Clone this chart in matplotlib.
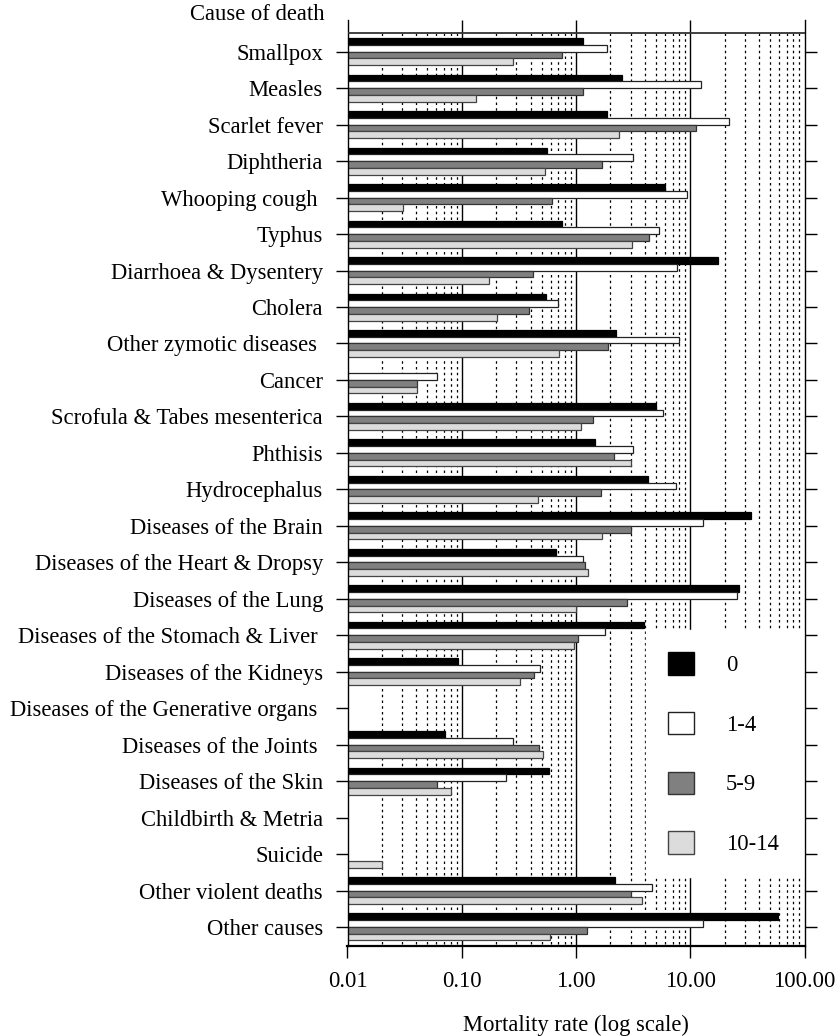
import matplotlib
matplotlib.use('Agg')
import matplotlib.pyplot as plt
from matplotlib.ticker import FixedLocator, NullLocator
import numpy as np

nan = np.nan

causes = ['Smallpox', 'Measles', 'Scarlet fever', 'Diphtheria', 'Whooping cough ',
          'Typhus', 'Diarrhoea & Dysentery', 'Cholera', 'Other zymotic diseases ',
          'Cancer', 'Scrofula & Tabes mesenterica', 'Phthisis', 'Hydrocephalus',
          'Diseases of the Brain', 'Diseases of the Heart & Dropsy',
          'Diseases of the Lung', 'Diseases of the Stomach & Liver ',
          'Diseases of the Kidneys', 'Diseases of the Generative organs ',
          'Diseases of the Joints ', 'Diseases of the Skin', 'Childbirth & Metria',
          'Suicide', 'Other violent deaths', 'Other causes']

ages = ['0', '1-4', '5-9', '10-14']

# mortality rates per age group, nan where nothing was recorded
age0 = [1.15, 2.53, 1.87, 0.56, 5.98, 0.76, 17.4, 0.55, 2.23, nan, 5.02, 1.46,
        4.27, 33.8, 0.67, 26.6, 3.92, 0.092, nan, 0.071, 0.58, nan, nan, 2.20, 58.2]
age1_4 = [1.87, 12.4, 21.9, 3.16, 9.44, 5.33, 7.71, 0.70, 7.92, 0.0605, 5.78, 3.16,
          7.51, 13.0, 1.16, 25.8, 1.81, 0.485, nan, 0.283, 0.243, nan, nan, 4.67, 13.0]
age5_9 = [0.76, 1.16, 11.2, 1.70, 0.614, 4.39, 0.424, 0.384, 1.90, 0.0405, 1.40, 2.17,
          1.64, 3.01, 1.19, 2.78, 1.04, 0.433, nan, 0.476, 0.061, nan, nan, 3.03, 1.24]
age10_14 = [0.283, 0.132, 2.37, 0.537, 0.0303, 3.12, 0.173, 0.203, 0.716, 0.0405, 1.10,
            3.03, 0.466, 1.68, 1.27, 1.01, 0.969, 0.324, nan, 0.516, 0.0813, nan,
            0.0202, 3.79, 0.598]

xticks = [0.01, 0.1, 1, 10, 100]
xticklabels = ['0.01', '0.10', '1.00', '10.00', '100.00']

plt.rcParams['font.family'] = 'Liberation Serif'
plt.rcParams['font.size'] = 16.3

W, H = 838, 1036
fig = plt.figure(figsize=(W / 100, H / 100), dpi=100)
ax = fig.add_axes([347.5 / W, (H - 945.7) / H, 457 / W, (945.7 - 20) / H])

xmin, xmax = xticks[0], xticks[-1]
ytop_header, ytop_plot, ybot = -0.87, -0.513, len(causes) - 1 + 0.513

# grid: solid decade lines run through the header row, dotted minor lines do not
decades = xticks[1:-1]
minors = [k * 10.0 ** e for e in range(-2, 2) for k in range(2, 10)]
ax.vlines(decades, ytop_header, ybot, colors='black', lw=1.0, zorder=1)
ax.vlines(minors, ytop_plot, ybot, colors='black', lw=0.9,
          linestyles=(0, (2, 2.6)), zorder=1)
ax.axhline(ytop_plot, color='#333333', lw=1.3, zorder=3)

colors = ['black', 'white', '#808080', '#dcdcdc']
edges = ['black', '#222222', '#333333', '#444444']
series = [age0, age1_4, age5_9, age10_14]
h = 0.185
offsets = (np.arange(4) - 1.5) * h
ypos = np.arange(len(causes))
for vals, lab, fc, ec, off in zip(series, ages, colors, edges, offsets):
    v = np.array(vals)
    ok = ~np.isnan(v)
    ax.barh(ypos[ok] + off, v[ok] - xmin, left=xmin, height=h, color=fc,
            edgecolor=ec, lw=0.9, label=lab, zorder=2)

ax.set_xscale('log')
ax.set_xlim(xmin, xmax)
ax.set_ylim(ybot, ytop_header)
ax.xaxis.set_major_locator(FixedLocator(xticks))
ax.xaxis.set_minor_locator(NullLocator())
ax.set_xticklabels(xticklabels)
ax.set_yticks(ypos)
ax.set_yticklabels(causes)
ax.tick_params(axis='y', which='both', left=True, right=True, direction='out',
               length=8.6, width=1.0, pad=9)
ax.tick_params(axis='x', direction='out', length=8.6, width=1.0, pad=9.5)
ax.spines['top'].set_visible(False)
for s in ('left', 'right'):
    ax.spines[s].set_linewidth(1.0)
ax.spines['bottom'].set_linewidth(1.6)

ax.set_xlabel('Mortality rate (log scale)', labelpad=16.5)
fig.text(324 / W, 1 - 14.5 / H, 'Cause of death', ha='right', va='center')

leg_top, leg_h = 1 - 630 / H, 0.01
leg = ax.legend(loc='upper left',
                bbox_to_anchor=(645.5 / W, leg_top - leg_h, 157.5 / W, leg_h),
                bbox_transform=fig.transFigure, mode='expand',
                frameon=True, fancybox=False, framealpha=1, edgecolor='white',
                facecolor='white', borderpad=0.98, borderaxespad=0,
                handlelength=1.15, handleheight=1.15, handletextpad=1.41,
                labelspacing=1.58)
for p in leg.get_patches():
    p.set_linewidth(1.0)

fig.savefig('out.png', dpi=100)
